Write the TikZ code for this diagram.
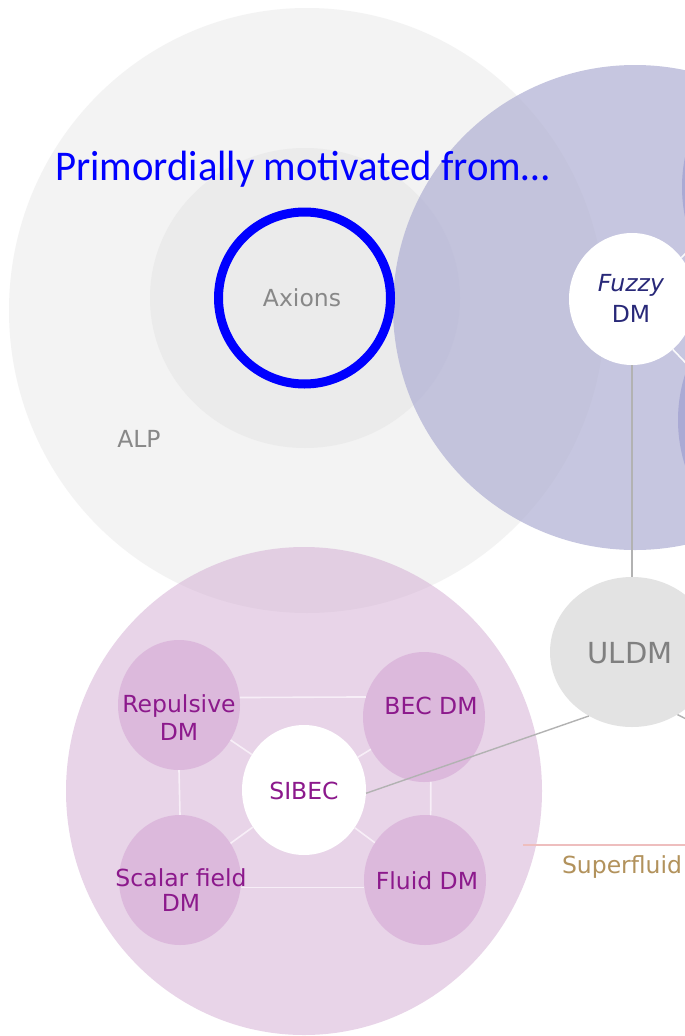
\documentclass[tikz,border=0pt]{standalone}
\usepackage{fontspec}
\setmainfont{DejaVu Sans}
\newfontfamily\calib{Carlito}
\usetikzlibrary{shapes.geometric}
\definecolor{alpc}{RGB}{243,243,243}
\definecolor{axc}{RGB}{235,235,235}
\definecolor{purp}{RGB}{175,175,211}
\definecolor{pinkb}{RGB}{211,171,211}
\definecolor{pinks}{RGB}{220,185,220}
\definecolor{rcirc}{RGB}{170,170,212}
\definecolor{ptext}{RGB}{140,25,140}
\definecolor{ftext}{RGB}{40,40,120}
\definecolor{gtext}{RGB}{136,136,136}
\definecolor{utext}{RGB}{128,128,128}
\definecolor{uldmc}{RGB}{227,227,227}
\definecolor{sftext}{RGB}{178,146,92}
\definecolor{sfline}{RGB}{238,190,190}
\definecolor{wline}{RGB}{247,238,247}
\definecolor{gline}{RGB}{178,178,178}
\begin{document}
\begin{tikzpicture}[x=1pt,y=-1pt,
  blob/.style={ellipse, inner sep=0pt, draw=none},
  lbl/.style={inner sep=0pt, font=\fontsize{23.5}{28}\selectfont, align=center},
  webline/.style={draw=wline, line width=1.6pt},
  grayline/.style={draw=gline, line width=1.4pt},
  fzline/.style={draw=white!92!purp, line width=1.6pt}]
\useasboundingbox (0,0) rectangle (685,1036);
\fill[white] (0,0) rectangle (685,1036);
% ALP and axion discs
\node[blob, fill=alpc, minimum width=596pt, minimum height=605pt] (alp) at (307,310.5) {};
\node[blob, fill=axc, minimum width=310pt, minimum height=300pt] (axdisc) at (305,298) {};
\node[lbl, text=gtext] (alpt) at (139,439) {ALP};
\node[lbl, text=gtext] (axt) at (302,298) {Axions};
% purple region
\node[blob, fill=purp, fill opacity=0.7, minimum width=484pt, minimum height=485pt] (purple) at (635,307.5) {};
\node[blob, fill=rcirc, minimum width=300pt, minimum height=300pt] (rc1) at (832,187) {};
\node[blob, fill=rcirc, minimum width=300pt, minimum height=300pt] (rc2) at (828,420) {};
\node[blob, fill=white, minimum width=126pt, minimum height=132pt] (fuzzy) at (632,299) {};
\coordinate (ur) at (702,237);
\coordinate (lr) at (702,380);
\draw[fzline] (fuzzy.40) -- (ur);
\draw[fzline] (fuzzy.-51) -- (lr);
\node[lbl, text=ftext, font=\fontsize{23.5}{31}\selectfont] (fuzzyt) at (631,298) {\textit{Fuzzy}\\DM};
% pink region
\node[blob, fill=pinkb, fill opacity=0.5, minimum width=476pt, minimum height=488pt] (pink) at (304,791) {};
\node[blob, fill=pinks, minimum width=122pt, minimum height=130pt] (rep) at (179,705) {};
\node[blob, fill=pinks, minimum width=122pt, minimum height=130pt] (bec) at (424,717) {};
\node[blob, fill=pinks, minimum width=122pt, minimum height=130pt] (scal) at (180,880) {};
\node[blob, fill=pinks, minimum width=122pt, minimum height=130pt] (fluid) at (425,880) {};
\node[blob, fill=white, minimum width=124pt, minimum height=130pt] (sibec) at (304,790) {};
\draw[webline] (rep.7.5) -- (bec.161);
\draw[webline] (scal.-7.5) -- (fluid.187.5);
\draw[webline] (rep.south) -- (scal.north);
\draw[webline] (bec.-84.7) -- (fluid.85.6);
\draw[webline] (sibec) -- (rep);
\draw[webline] (sibec) -- (bec);
\draw[webline] (sibec) -- (scal);
\draw[webline] (sibec) -- (fluid);
\node[lbl, text=ptext] (rept) at (179,718) {Repulsive\\DM};
\node[lbl, text=ptext] (bect) at (431,706) {BEC DM};
\node[lbl, text=ptext, font=\fontsize{23.5}{25.5}\selectfont] (scalt) at (181,890) {Scalar field\\DM};
\node[lbl, text=ptext] (fluidt) at (427,881) {Fluid DM};
\node[lbl, text=ptext] (sibect) at (304,791) {SIBEC};
% ULDM
\node[blob, fill=uldmc, minimum width=164pt, minimum height=150pt] (uldm) at (632,652) {};
\node[lbl, text=utext, font=\fontsize{29}{34}\selectfont] (uldmt) at (630,653) {ULDM};
\draw[grayline] (fuzzy) -- (uldm);
\draw[grayline] (uldm.236) -- (sibec.-3);
\coordinate (uend) at (702,727);
\draw[grayline] (uldm.-54) -- (uend);
% superfluid
\coordinate (sfa) at (523,845);
\coordinate (sfb) at (690,845);
\draw[draw=sfline, line width=1.3pt] (sfa) -- (sfb);
\node[lbl, text=sftext, anchor=base] (sft) at (622,873.6) {Superfluid};
% annotation
\node[draw=blue, line width=9pt, circle, inner sep=0pt, minimum size=172pt] (ring) at (304.5,298) {};
\node[anchor=base west, inner sep=0pt, text=blue, font=\calib\fontsize{40.7}{48}\selectfont] (prim) at (55,180) {\scalebox{1}[1.04]{Primordially motivated from…}};
\end{tikzpicture}
\end{document}
